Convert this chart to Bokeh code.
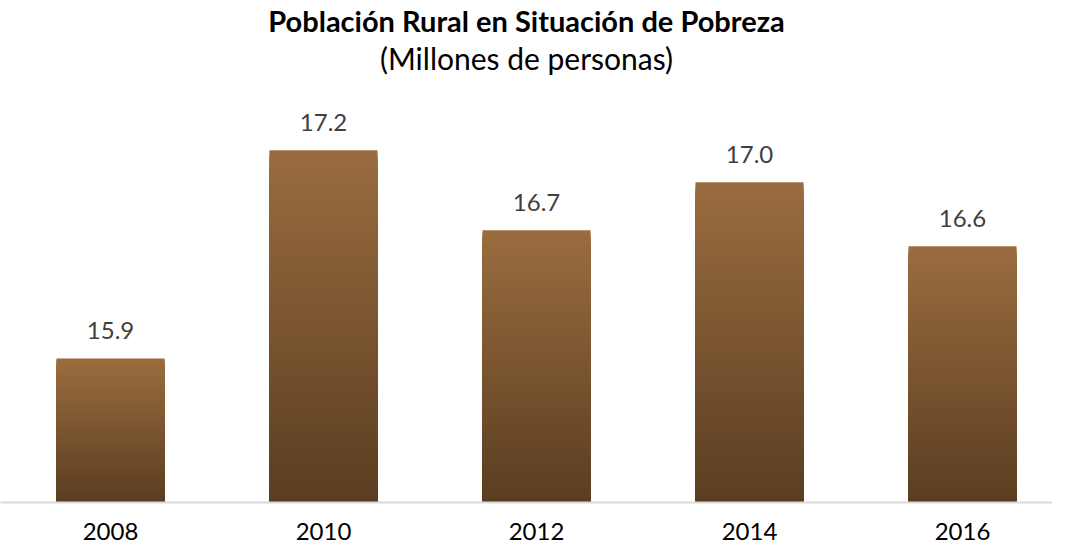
from bokeh.plotting import figure
from bokeh.models import Range1d, FixedTicker, Title, ColumnDataSource, LabelSet
from bokeh.core.properties import value
from bokeh.embed import file_html
from bokeh.resources import INLINE

years = [2008, 2010, 2012, 2014, 2016]
values = [15.9, 17.2, 16.7, 17.0, 16.6]
labels = ["15.9", "17.2", "16.7", "17.0", "16.6"]
title_text = "Población Rural en Situación de Pobreza"
subtitle_text = "(Millones de personas)"

BASE = 15.0
TOP_COLOR = (0x9a, 0x6d, 0x3f)
BOT_COLOR = (0x5a, 0x3d, 0x21)
N = 100
FONT = "Lato"

p = figure(width=1052, height=546, output_backend="svg", toolbar_location=None,
           x_range=Range1d(2006.967, 2016.845), y_range=Range1d(BASE, 17.667),
           min_border_left=0, min_border_right=0, min_border_top=0, min_border_bottom=44)

# gradient bars: nested slices of each data bar, tallest first (top colour),
# each shorter one drawn over it with a darker colour
xs, tops, cols = [], [], []
for i in range(N, 0, -1):
    f = i / N
    t = (i - 0.5) / N
    c = tuple(int(round(BOT_COLOR[k] + (TOP_COLOR[k] - BOT_COLOR[k]) * t)) for k in range(3))
    for yr, v in zip(years, values):
        xs.append(yr)
        tops.append(BASE + (v - BASE) * f)
        cols.append("#%02x%02x%02x" % c)
src = ColumnDataSource(dict(x=xs, top=tops, color=cols))
p.vbar(x="x", bottom=BASE, top="top", width=1.014, fill_color="color",
       line_color=None, source=src)

lab_src = ColumnDataSource(dict(x=years, y=values, text=labels))
p.add_layout(LabelSet(x="x", y="y", text="text", source=lab_src, text_align="center",
                      text_baseline="alphabetic", y_offset=19, text_font=value(FONT),
                      text_font_size=value("24px"), text_color=value("#404040")))

p.yaxis.visible = False
p.xaxis.ticker = FixedTicker(ticks=years)
p.xaxis.major_label_overrides = {y: str(y) for y in years}
p.xaxis.major_tick_line_color = None
p.xaxis.minor_tick_line_color = None
p.xaxis.axis_line_color = "#d9d9d9"
p.xaxis.axis_line_width = 2
p.xaxis.major_label_text_font = FONT
p.xaxis.major_label_text_font_size = "24px"
p.xaxis.major_label_text_color = "#000000"
p.xaxis.major_label_standoff = 14
p.xgrid.visible = False
p.ygrid.visible = False
p.outline_line_color = None

p.add_layout(Title(text=subtitle_text, align="center", text_font=FONT, standoff=0,
                   text_font_size="30px", text_font_style="normal", text_color="#000000"), "above")
p.add_layout(Title(text=title_text, align="center", text_font=FONT, standoff=0,
                   text_font_size="29px", text_font_style="bold", text_color="#000000"), "above")

open("out.html", "w").write(file_html(p, INLINE))
